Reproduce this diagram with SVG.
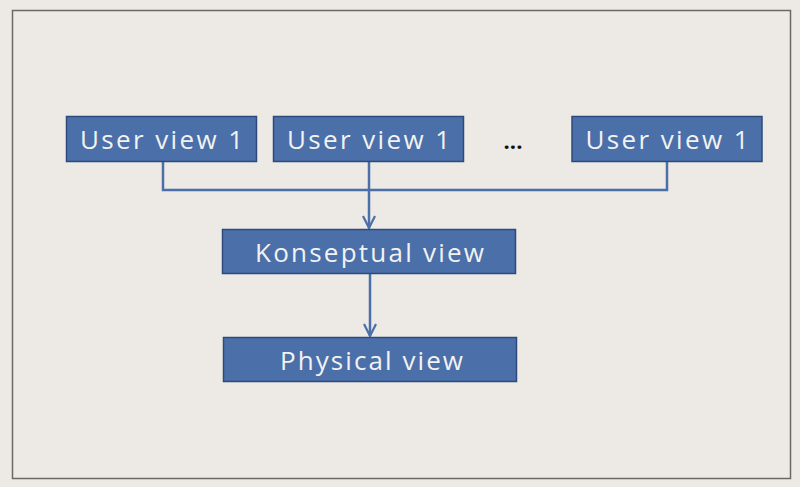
<svg xmlns="http://www.w3.org/2000/svg" width="800" height="487" viewBox="0 0 800 487">
<style>
.box{fill:#4a6fa9;stroke:#2c4b7c;stroke-width:1.5}
.lbl{font-family:"Open Sans","Noto Sans",sans-serif;font-size:26px;fill:#f2f2f2;text-anchor:middle}
.con{fill:none;stroke:#4a6fa9;stroke-width:2.5}
</style>
<defs>
<marker id="arr" viewBox="0 0 14 14" refX="13" refY="7" markerWidth="14" markerHeight="14" markerUnits="userSpaceOnUse" orient="auto">
<path d="M1,1 L13,7 L1,13" fill="none" stroke="#4a6fa9" stroke-width="2.2"/>
</marker>
</defs>
<rect x="0" y="0" width="800" height="487" fill="#ede9e5"/>
<rect x="12.5" y="10.5" width="778" height="468" fill="#ede9e5" stroke="#6f6862" stroke-width="1.5"/>
<g id="connectors">
<polyline class="con" points="163,161 163,190 667,190 667,161"/>
<line class="con" x1="369" y1="161" x2="369" y2="228" marker-end="url(#arr)"/>
<line class="con" x1="370" y1="274" x2="370" y2="336" marker-end="url(#arr)"/>
</g>
<g id="user1"><rect class="box" x="66.5" y="116.5" width="190" height="45"/><text class="lbl" x="161.5" y="148.5" textLength="163" lengthAdjust="spacing">User view 1</text></g>
<g id="user2"><rect class="box" x="273.5" y="116.5" width="190" height="45"/><text class="lbl" x="368.5" y="148.5" textLength="163" lengthAdjust="spacing">User view 1</text></g>
<g id="dots"><text x="513" y="149" style="font-family:'Open Sans',sans-serif;font-size:22px;font-weight:bold;fill:#111;text-anchor:middle">...</text></g>
<g id="user3"><rect class="box" x="572" y="116.5" width="190" height="45"/><text class="lbl" x="667" y="148.5" textLength="163" lengthAdjust="spacing">User view 1</text></g>
<g id="konseptual"><rect class="box" x="222.5" y="229.5" width="293" height="44"/><text class="lbl" x="369.5" y="262" textLength="229" lengthAdjust="spacing">Konseptual view</text></g>
<g id="physical"><rect class="box" x="223.5" y="337.5" width="293" height="44"/><text class="lbl" x="371.5" y="369.5" textLength="183" lengthAdjust="spacing">Physical view</text></g>
</svg>
